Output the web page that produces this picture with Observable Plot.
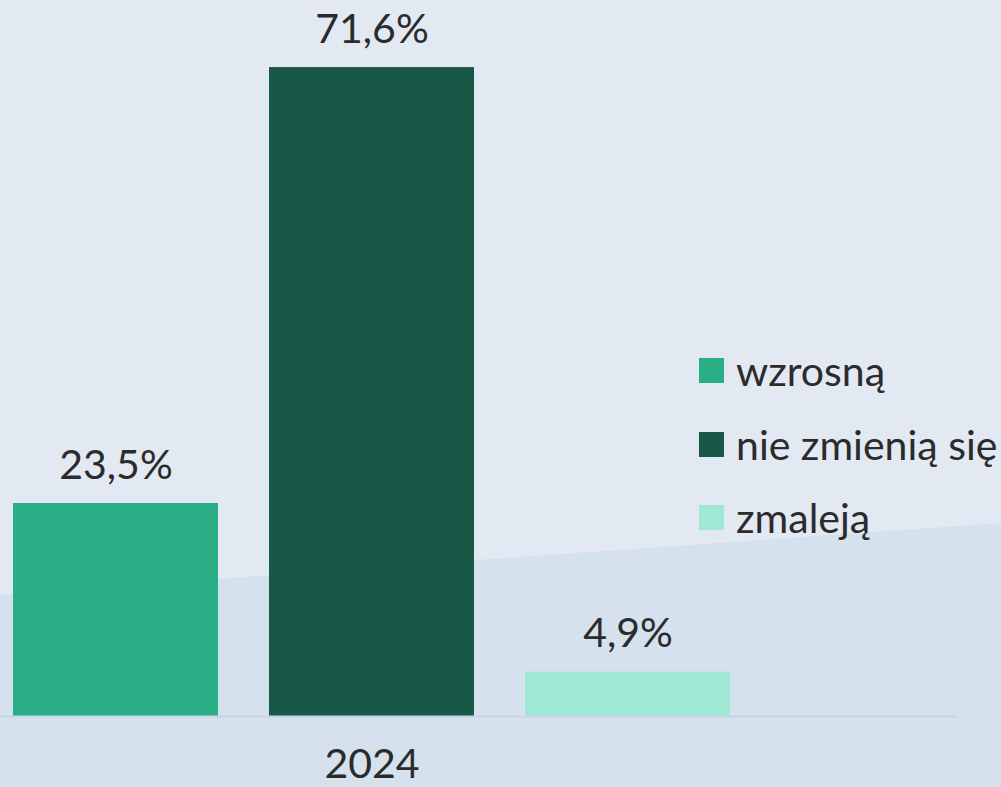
<!DOCTYPE html>
<html>
<head>
<meta charset="utf-8">
<script src="https://cdn.jsdelivr.net/npm/d3@7"></script>
<script src="https://cdn.jsdelivr.net/npm/@observablehq/plot@0.6"></script>
<style>
  html, body { margin: 0; padding: 0; }
  body { width: 1001px; height: 787px; overflow: hidden; position: relative; background: #e2e9f3; font-family: Lato, "Noto Sans", sans-serif; }
  #bg-lower { position: absolute; inset: 0; background: #d6e1ee; clip-path: polygon(0 595px, 490px 559px, 1001px 523px, 1001px 787px, 0 787px); }
  #chart { position: absolute; left: 0; top: 0; }
  #legend { position: absolute; left: 699px; top: 334px; color: #2b2b2b; font-size: 41px; }
  #legend .row { display: flex; align-items: center; height: 73.5px; }
  #legend .sw { width: 25px; height: 25px; margin-right: 12px; flex: none; }
</style>
</head>
<body>
<div id="bg-lower"></div>
<div id="chart"></div>
<div id="legend"></div>
<script>
const categories = ["wzrosną", "nie zmienią się", "zmaleją"];
const values = [23.5, 71.6, 4.9];
const labels = ["23,5%", "71,6%", "4,9%"];
const colors = ["#2aae86", "#175846", "#a0e8d3"];
const years = ["2024"];

const data = categories.map((c, i) => ({category: c, value: values[i], label: labels[i]}));

const chart = Plot.plot({
  width: 1001,
  height: 787,
  marginTop: 0,
  marginLeft: 0,
  marginRight: 43,
  marginBottom: 71,
  style: {background: "transparent", fontFamily: "Lato, 'Noto Sans', sans-serif", color: "#2b2b2b"},
  x: {domain: categories, range: [0, 744], paddingInner: 0.198, paddingOuter: 0.0465, axis: null},
  y: {domain: [0, 79], axis: null},
  color: {domain: categories, range: colors},
  marks: [
    Plot.barY(data, {x: "category", y: "value", fill: "category"}),
    Plot.ruleY([0], {stroke: "#c9d4e2", strokeWidth: 2}),
    Plot.text(data, {x: "category", y: "value", text: "label", dy: -38, fontSize: 41, fill: "#2b2b2b"}),
    Plot.axisX({ticks: [categories[1]], tickFormat: () => years[0], tickSize: 0, tickPadding: 32, fontSize: 41, fill: "#2b2b2b", label: null})
  ]
});
document.getElementById("chart").appendChild(chart);

const legend = document.getElementById("legend");
categories.forEach((c, i) => {
  const row = document.createElement("div");
  row.className = "row";
  const sw = document.createElement("span");
  sw.className = "sw";
  sw.style.background = colors[i];
  const t = document.createElement("span");
  t.textContent = c;
  row.appendChild(sw);
  row.appendChild(t);
  legend.appendChild(row);
});
</script>
</body>
</html>
